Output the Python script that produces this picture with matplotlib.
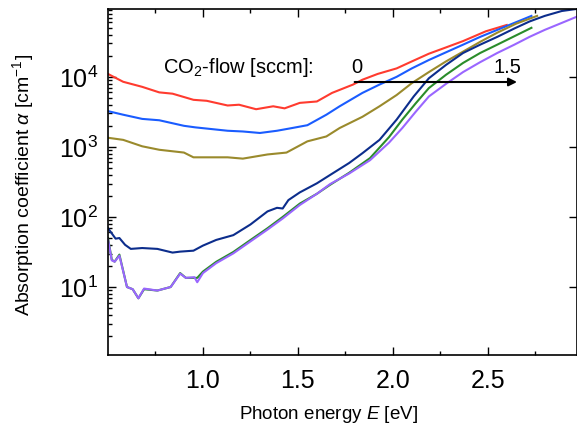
import matplotlib
matplotlib.use('Agg')
import matplotlib.pyplot as plt
import numpy as np

plt.rcParams['font.family'] = ['Liberation Sans', 'DejaVu Sans']
plt.rcParams['mathtext.fontset'] = 'custom'
plt.rcParams['mathtext.rm'] = 'Liberation Sans'
plt.rcParams['mathtext.it'] = 'Liberation Sans:italic'

# photon energy [eV] and absorption coefficient [cm^-1]
E_red = [0.5, 0.58, 0.68, 0.77, 0.84, 0.95, 1.02, 1.13, 1.19, 1.28, 1.37, 1.43, 1.51,
         1.60, 1.68, 1.79, 1.84, 1.92, 2.02, 2.10, 2.19, 2.28, 2.37, 2.49, 2.60]
a_red = [11000, 8500, 7200, 6000, 5750, 4700, 4550, 3900, 4000, 3450, 3800, 3550, 4250,
         4450, 5900, 7750, 9100, 11000, 13200, 16600, 21400, 26300, 32400, 44700, 55000]

E_blue = [0.5, 0.58, 0.68, 0.77, 0.90, 0.96, 1.13, 1.21, 1.30, 1.39, 1.47, 1.55, 1.65,
          1.72, 1.84, 1.93, 2.02, 2.10, 2.19, 2.28, 2.37, 2.46, 2.55, 2.64, 2.73]
a_blue = [3240, 2880, 2510, 2400, 2000, 1900, 1700, 1660, 1580, 1700, 1860, 2040, 2880,
          3800, 5900, 7760, 10000, 13200, 17400, 22400, 28800, 37200, 46800, 58900, 74100]

E_olive = [0.5, 0.58, 0.68, 0.77, 0.90, 0.95, 1.13, 1.21, 1.34, 1.44, 1.55, 1.65, 1.72,
           1.84, 1.93, 2.02, 2.10, 2.19, 2.28, 2.37, 2.46, 2.55, 2.65, 2.76]
a_olive = [1350, 1260, 1020, 910, 830, 710, 710, 680, 780, 830, 1200, 1410, 1860,
           2690, 3800, 5500, 8130, 11700, 16600, 22900, 31600, 42700, 57500, 74100]

E_navy = [0.5, 0.54, 0.56, 0.59, 0.62, 0.68, 0.76, 0.84, 0.88, 0.95, 1.0, 1.07, 1.16,
          1.25, 1.34, 1.39, 1.42, 1.45, 1.51, 1.60, 1.67, 1.77, 1.84, 1.93, 2.02, 2.11,
          2.19, 2.28, 2.37, 2.46, 2.55, 2.64, 2.72, 2.80, 2.89, 2.97]
a_navy = [69, 49, 50, 40, 35, 36, 35, 31, 32, 33, 39, 47, 55,
          78, 120, 135, 132, 174, 224, 302, 398, 589, 813, 1260, 2450, 5250,
          9550, 14800, 21900, 28800, 37200, 49000, 61700, 74100, 87100, 93300]

E_green = [0.5, 0.52, 0.535, 0.56, 0.60, 0.63, 0.66, 0.69, 0.76, 0.83, 0.88, 0.91, 0.97,
           1.0, 1.07, 1.16, 1.25, 1.34, 1.42, 1.51, 1.60, 1.67, 1.77, 1.88, 1.98, 2.05,
           2.12, 2.19, 2.28, 2.37, 2.46, 2.55, 2.64, 2.73]
a_green = [50, 24.5, 23, 29, 10, 9.3, 6.9, 9.3, 8.9, 10, 15.8, 13.5, 13.5,
           16.6, 22.9, 31.6, 46.8, 69, 100, 155, 214, 288, 427, 692, 1380, 2450,
           4170, 6920, 10700, 15800, 21900, 28800, 38000, 50100]

E_purple = [0.5, 0.52, 0.535, 0.56, 0.60, 0.63, 0.66, 0.69, 0.76, 0.83, 0.88, 0.91, 0.955,
            0.97, 1.0, 1.07, 1.16, 1.25, 1.34, 1.42, 1.51, 1.60, 1.67, 1.77, 1.88, 1.98,
            2.05, 2.12, 2.19, 2.28, 2.37, 2.46, 2.55, 2.64, 2.72, 2.80, 2.89, 2.97]
a_purple = [48, 24, 23, 28, 10, 9.3, 6.9, 9.5, 8.9, 10, 15.5, 13.5, 13.8,
            11.7, 15.8, 21.9, 30.2, 44.7, 66, 95, 148, 214, 295, 417, 646, 1150,
            1860, 3160, 5250, 7940, 11700, 16200, 21900, 28800, 37200, 46800, 58900, 72400]

series = [
    (E_red, a_red, '#ff3b2f'),
    (E_blue, a_blue, '#1a5cff'),
    (E_olive, a_olive, '#9a8a2c'),
    (E_navy, a_navy, '#0c2d8c'),
    (E_green, a_green, '#2a8c2a'),
    (E_purple, a_purple, '#9a66ff'),
]

fig = plt.figure(figsize=(5.77, 4.34), dpi=100)
ax = fig.add_axes([108 / 577, 1 - 355 / 434, 469 / 577, 346 / 434])

for E, a, c in series:
    ax.plot(E, a, color=c, lw=1.5)

ax.set_yscale('log')
ax.set_xlim(0.5, 2.97)
ax.set_ylim(1.07, 9.3e4)
ax.set_xticks([1.0, 1.5, 2.0, 2.5])
ax.set_xticks(np.arange(0.75, 3.0, 0.5), minor=True)
ax.xaxis.set_major_formatter(matplotlib.ticker.FormatStrFormatter('%.1f'))
ax.yaxis.set_major_locator(matplotlib.ticker.LogLocator(base=10, numticks=10))
ax.yaxis.set_minor_locator(matplotlib.ticker.LogLocator(base=10, subs=np.arange(2, 10), numticks=20))
ax.yaxis.set_minor_formatter(matplotlib.ticker.NullFormatter())
ax.tick_params(which='both', direction='in', top=True, right=True, labelsize=18, width=1)
ax.tick_params(which='major', length=6)
ax.tick_params(which='minor', length=3)
ax.tick_params(axis='x', which='major', pad=10)
ax.tick_params(axis='y', which='major', pad=7)
ax.tick_params(axis='y', which='minor', right=False)
for s in ax.spines.values():
    s.set_linewidth(1.2)

ax.set_xlabel('Photon energy $E$ [eV]', fontsize=13.5)
ax.set_ylabel(r'Absorption coefficient $\alpha$ [cm$^{-1}$]', fontsize=14)
ax.xaxis.set_label_coords(0.471, -0.142)
ax.yaxis.set_label_coords(-0.153, 0.49)

ax.text(0.117, 0.83, 'CO$_2$-flow [sccm]:', transform=ax.transAxes, fontsize=14.5, va='center')
ax.text(0.531, 0.83, '0', transform=ax.transAxes, fontsize=14.5, va='center', ha='center')
ax.text(0.851, 0.83, '1.5', transform=ax.transAxes, fontsize=14.5, va='center', ha='center')
ax.annotate('', xy=(0.878, 0.789), xytext=(0.52, 0.789), xycoords='axes fraction',
            arrowprops=dict(arrowstyle='-|>', color='black', lw=1.5, mutation_scale=12))

fig.savefig('out.png', dpi=100)
